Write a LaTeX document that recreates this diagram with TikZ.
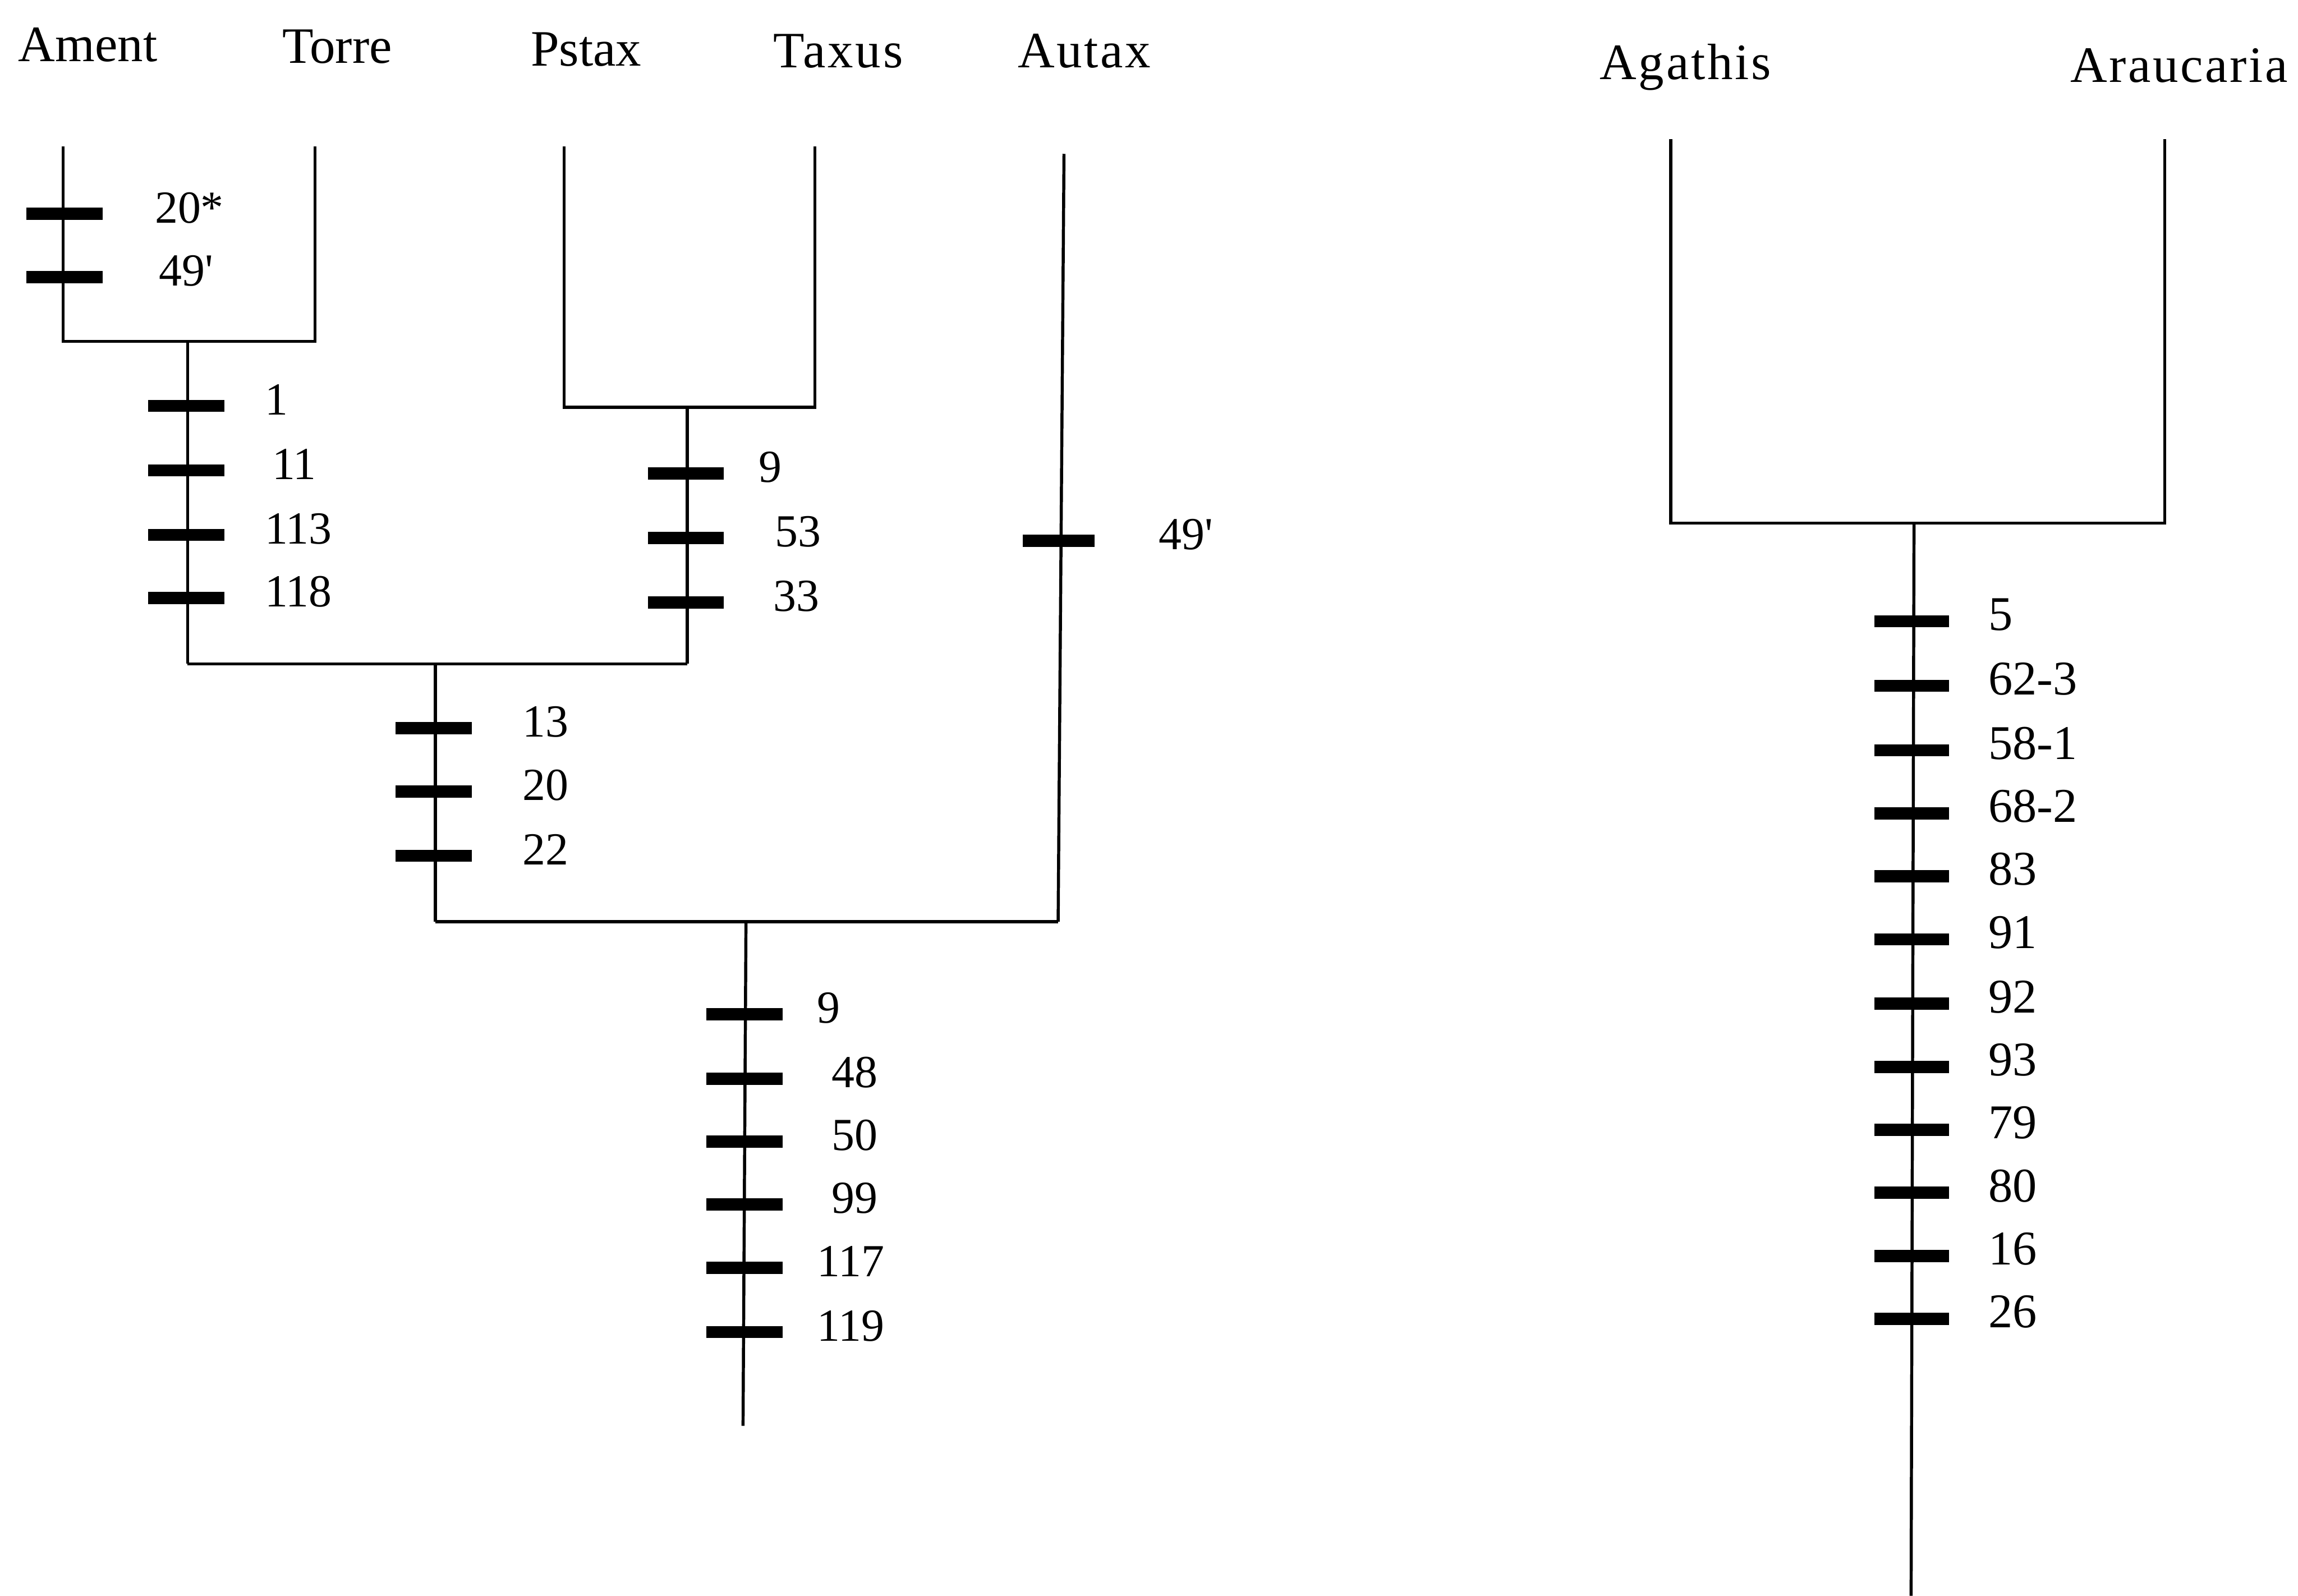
\documentclass[tikz,border=0pt]{standalone}
\usepackage{fontspec}
\setmainfont{Liberation Serif}
\newfontfamily\spacedfont[LetterSpace=4]{Liberation Serif}
\begin{document}
\begin{tikzpicture}[x=0.2872pt,y=-0.2872pt,
  branch/.style={line width=0.6pt},
  tickmark/.style={line width=2.4pt},
  taxon/.style={font=\fontsize{10}{12}\selectfont, anchor=base, inner sep=0pt},
  staxon/.style={font=\spacedfont\fontsize{10}{12}\selectfont, anchor=base, inner sep=0pt},
  charlbl/.style={font=\fontsize{9}{11}\selectfont, anchor=base west, inner sep=0pt},
  rcharlbl/.style={font=\fontsize{9.5}{11}\selectfont, anchor=base west, inner sep=0pt}]
\useasboundingbox (0,0) rectangle (1568,1089);

% taxon labels
\node[taxon]  (Ament)     at (60,42)   {Ament};
\node[taxon]  (Torre)     at (230,43)  {Torre};
\node[taxon]  (Pstax)     at (400,45)  {Pstax};
\node[staxon] (Taxus)     at (572,46)  {Taxus};
\node[staxon] (Autax)     at (740,46)  {Autax};
\node[staxon] (Agathis)   at (1150,54) {Agathis};
\node[staxon] (Araucaria) at (1487,56) {Araucaria};

% coordinates of the left tree
\coordinate (tAment) at (43,100);  \coordinate (cAment) at (43,233);
\coordinate (tTorre) at (215,100); \coordinate (cTorre) at (215,233);
\coordinate (n1) at (128,233);     \coordinate (n1b) at (128,453);
\coordinate (tPstax) at (385,100); \coordinate (cPstax) at (385,278);
\coordinate (tTaxus) at (556,100); \coordinate (cTaxus) at (556,278);
\coordinate (n2) at (469,278);     \coordinate (n2b) at (469,453);
\coordinate (n3) at (297,453);     \coordinate (n3b) at (297,629);
\coordinate (tAutax) at (726,105); \coordinate (cAutax) at (722,629);
\coordinate (root) at (509,629);   \coordinate (rootb) at (507,973);

% coordinates of the right tree
\coordinate (tAgathis) at (1140,95); \coordinate (cAgathis) at (1140,357);
\coordinate (tArau) at (1477,95);    \coordinate (cArau) at (1477,357);
\coordinate (n4) at (1306,357);      \coordinate (n4b) at (1304,1089);

% branches
\draw[branch] (tAment) -- (cAment) -- (cTorre) -- (tTorre);
\draw[branch] (n1) -- (n1b);
\draw[branch] (tPstax) -- (cPstax) -- (cTaxus) -- (tTaxus);
\draw[branch] (n2) -- (n2b);
\draw[branch] (n1b) -- (n2b);
\draw[branch] (n3) -- (n3b);
\draw[branch] (tAutax) -- (cAutax);
\draw[branch] (n3b) -- (cAutax);
\draw[branch] (root) -- (rootb);
\draw[branch] (tAgathis) -- (cAgathis) -- (cArau) -- (tArau);
\draw[branch] (n4) -- (n4b);

% character ticks: Ament
\foreach \y/\t/\lx [count=\i] in {146/{20*}/105, 189/{49\textquotesingle}/108}{
  \draw[tickmark] (18,\y) -- (70,\y);
  \node[charlbl] (am\i) at (\lx,\y+6) {\t};
}
% node Ament+Torre
\foreach \y/\t/\lx [count=\i] in {277/1/180, 321/11/185, 365/113/180, 408/118/180}{
  \draw[tickmark] (101,\y) -- (153,\y);
  \node[charlbl] (at\i) at (\lx,\y+6) {\t};
}
% node Pstax+Taxus
\foreach \y/\t/\lx [count=\i] in {323/9/517, 367/53/528, 411/33/527}{
  \draw[tickmark] (442,\y) -- (494,\y);
  \node[charlbl] (pt\i) at (\lx,\y+6) {\t};
}
% node of the four
\foreach \y/\t/\lx [count=\i] in {497/13/356, 540/20/356, 584/22/356}{
  \draw[tickmark] (270,\y) -- (322,\y);
  \node[charlbl] (fo\i) at (\lx,\y+6) {\t};
}
% Autax
\draw[tickmark] (698,369) -- (747,369);
\node[charlbl] (au1) at (790,375) {49\textquotesingle};
% root of left tree
\foreach \y/\t/\lx [count=\i] in {692/9/557, 736/48/567, 779/50/567, 822/99/567, 865/117/557, 909/119/557}{
  \draw[tickmark] (482,\y) -- (534,\y);
  \node[charlbl] (rt\i) at (\lx,\y+6) {\t};
}
% right tree
\foreach \y/\t [count=\i] in {424/5, 468/62-3, 512/58-1, 555/68-2, 598/83, 641/91, 685/92, 728/93, 771/79, 814/80, 857/16, 900/26}{
  \draw[tickmark] (1279,\y) -- (1330,\y);
  \node[rcharlbl] (ar\i) at (1356,\y+6) {\t};
}
\end{tikzpicture}
\end{document}
